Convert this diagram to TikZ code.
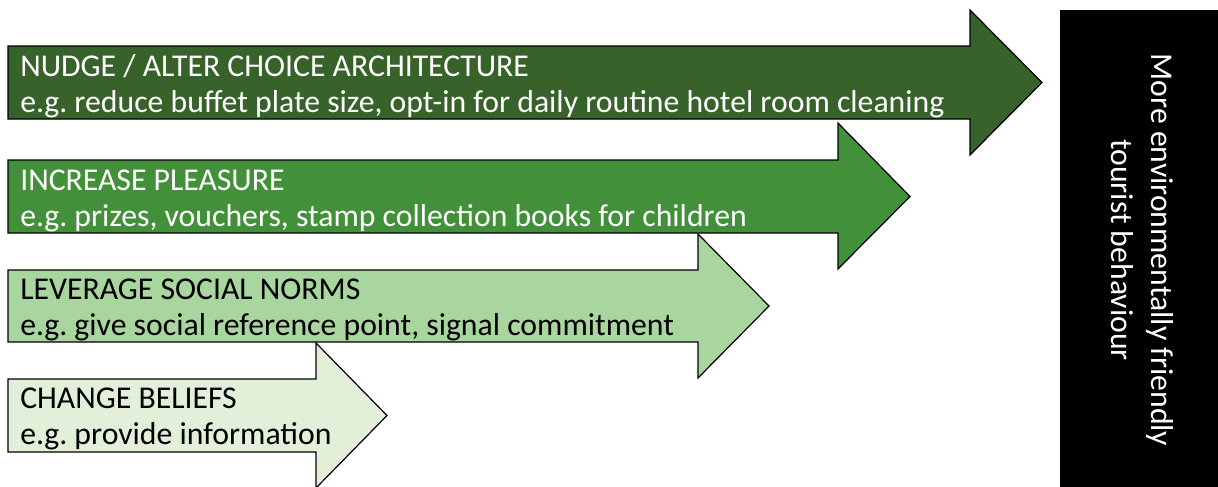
\documentclass[tikz,border=0pt]{standalone}
\usepackage{fontspec}
\setmainfont{Carlito}
\begin{document}
\frenchspacing
\begin{tikzpicture}[x=0.75pt,y=-0.75pt,
  arrowshape/.style={draw=black, line width=0.9pt, line join=miter},
  lbl/.style={anchor=base west, inner sep=0pt, font=\fontsize{23.8}{28}\selectfont},
  goalbox/.style={fill=black, draw=none}]
\definecolor{gDark}{RGB}{55,98,42}
\definecolor{gMid}{RGB}{66,145,58}
\definecolor{gLight}{RGB}{168,214,158}
\definecolor{gPale}{RGB}{226,240,218}
\useasboundingbox (0,0) rectangle (1218,486);

% block arrows: body from x=8 to head start, head 72 long, 36 wider than body on each side
% NUDGE
\filldraw[arrowshape, fill=gDark]
  (8,46) -- (970,46) -- (970,10) -- (1042,82.5) -- (970,155) -- (970,119) -- (8,119) -- cycle;
\node[lbl, text=white] (n1a) at (20,76) {NUDGE / ALTER CHOICE ARCHITECTURE};
\node[lbl, text=white] (n1b) at (20,112) {e.g. reduce buffet plate size, opt-in for daily routine hotel room cleaning};

% INCREASE PLEASURE
\filldraw[arrowshape, fill=gMid]
  (8,160) -- (838,160) -- (838,123) -- (910,196.5) -- (838,269) -- (838,233) -- (8,233) -- cycle;
\node[lbl, text=white] (n2a) at (20,190) {INCREASE PLEASURE};
\node[lbl, text=white] (n2b) at (20,226) {e.g. prizes, vouchers, stamp collection books for children};

% LEVERAGE SOCIAL NORMS
\filldraw[arrowshape, fill=gLight]
  (8,270) -- (698,270) -- (698,234) -- (769,306) -- (698,378) -- (698,342) -- (8,342) -- cycle;
\node[lbl, text=black] (n3a) at (20,299) {LEVERAGE SOCIAL NORMS};
\node[lbl, text=black] (n3b) at (20,335) {e.g. give social reference point, signal commitment};

% CHANGE BELIEFS
\filldraw[arrowshape, fill=gPale]
  (8,379) -- (316,379) -- (316,343) -- (387,415.5) -- (316,488) -- (316,452) -- (8,452) -- cycle;
\node[lbl, text=black] (n4a) at (20,408) {CHANGE BELIEFS};
\node[lbl, text=black] (n4b) at (20,444) {e.g. provide information};

% outcome box
\fill[goalbox] (1060,10) rectangle (1220,488);
\node[rotate=-90, text=white, align=center, inner sep=0pt,
      font=\fontsize{23.8}{30}\selectfont] (goal) at (1142,250)
  {More environmentally friendly\\tourist behaviour};
\end{tikzpicture}
\end{document}
